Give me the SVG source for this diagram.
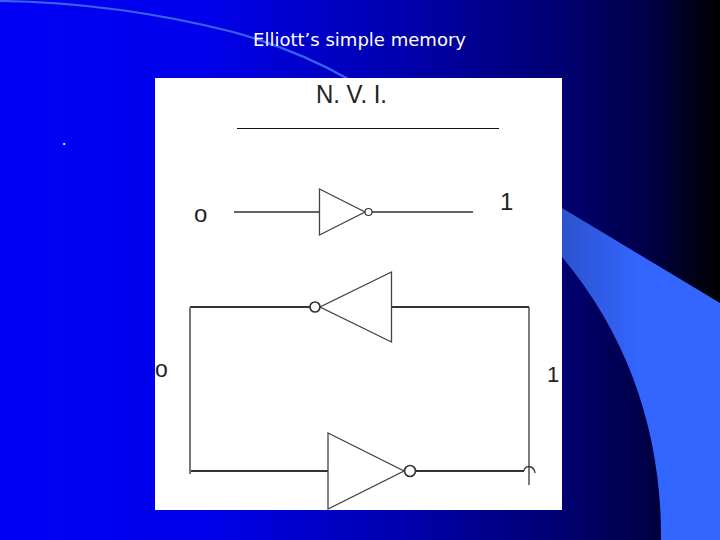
<svg xmlns="http://www.w3.org/2000/svg" width="720" height="540" viewBox="0 0 720 540">
  <defs>
    <linearGradient id="bg" x1="0" y1="0" x2="1" y2="0">
      <stop offset="0" stop-color="#0000f4"/>
      <stop offset="0.28" stop-color="#0000ec"/>
      <stop offset="0.55" stop-color="#0000b0"/>
      <stop offset="0.78" stop-color="#000070"/>
      <stop offset="0.9" stop-color="#000048"/>
      <stop offset="1" stop-color="#000000"/>
    </linearGradient>
    <linearGradient id="sw" gradientUnits="userSpaceOnUse" x1="560" y1="0" x2="640" y2="0">
      <stop offset="0" stop-color="#2d52cc"/>
      <stop offset="1" stop-color="#3366ff"/>
    </linearGradient>
  </defs>
  <style>
    .wire { fill: none; stroke: #333; stroke-width: 2; }
    .thin { fill: none; stroke: #333; stroke-width: 1.3; }
    .gate { fill: #fff; stroke: #444; stroke-width: 1.3; }
    .bub { fill: #fff; stroke: #333; stroke-width: 1.7; }
    .lbl { font-family: "Liberation Sans", Arial, sans-serif; fill: #222; }
    .ttl { font-family: "DejaVu Sans", sans-serif; fill: #fff; }
  </style>
  <rect width="720" height="540" fill="url(#bg)"/>
  <path d="M0,1 C70,2 150,11 233,32 C280,45 315,60 350,80" fill="none" stroke="#3a62f0" stroke-width="2.2"/>
  <path d="M400,110 L562,208 L720,303 L720,540 L661,540 C662,440 632,340 562,257 L500,190 Z" fill="url(#sw)"/>
  <text class="ttl" x="253" y="46" font-size="18" textLength="213" lengthAdjust="spacingAndGlyphs">Elliott’s simple memory</text>
  <text class="ttl" x="61.5" y="145" font-size="16">.</text>
  <rect x="155" y="78" width="407" height="432" fill="#fff"/>
  <text class="lbl" x="316" y="103" font-size="25" textLength="71" lengthAdjust="spacingAndGlyphs">N. V. I.</text>
  <line x1="237" y1="128.5" x2="499" y2="128.5" stroke="#111" stroke-width="1.2"/>
  <g id="connectors">
    <path class="thin" d="M234,212 H319.5 M372,212 H473"/>
    <path class="wire" d="M310,307 H190 M391.5,307 H529 M190,471 H328 M416,471 H524"/>
    <path d="M190,307 V474" fill="none" stroke="#777" stroke-width="2"/>
    <path d="M529,307 V485" fill="none" stroke="#444" stroke-width="1.4"/>
    <path class="thin" d="M524,471 C525,465 534,465 535,473"/>
  </g>
  <g id="label-o1"><text class="lbl" x="194" y="222" font-size="24">o</text></g>
  <g id="label-11"><text class="lbl" x="500" y="210" font-size="24">1</text></g>
  <g id="label-o2"><text class="lbl" x="155" y="377" font-size="23">o</text></g>
  <g id="label-12"><text class="lbl" x="547" y="382" font-size="22">1</text></g>
  <g id="inverter-1">
    <polygon class="gate" points="319.5,189 319.5,235 365,212"/>
    <circle cx="368.5" cy="212" r="3.5" fill="#fff" stroke="#333" stroke-width="1.2"/>
  </g>
  <g id="inverter-2">
    <polygon class="gate" points="391.5,272 391.5,342 320,307"/>
    <circle class="bub" cx="315" cy="307" r="5"/>
  </g>
  <g id="inverter-3">
    <polygon class="gate" points="328,433 328,509 404,471"/>
    <circle class="bub" cx="410" cy="471" r="5.5"/>
  </g>
</svg>
